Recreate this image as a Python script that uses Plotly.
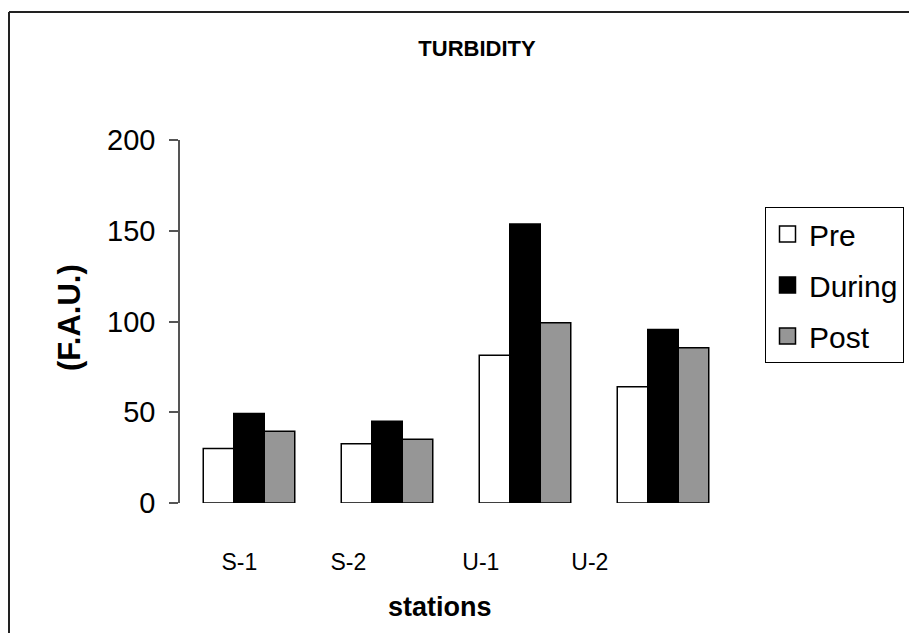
import plotly.graph_objects as go

stations = ["S-1", "S-2", "U-1", "U-2"]
pre = [30.0, 32.7, 81.4, 64.0]
during = [49.3, 45.0, 153.7, 95.6]
post = [39.5, 35.1, 99.3, 85.5]
# label positions on the category axis (as placed in the original, slightly offset)
label_pos = [-0.07, 0.72, 1.68, 2.47]
y_ticks = [0, 50, 100, 150, 200]

FONT = "Liberation Sans, Arial, sans-serif"
series = [("Pre", pre, "#ffffff"), ("During", during, "#000000"), ("Post", post, "#969696")]

fig = go.Figure()
xs = list(range(len(stations)))
for name, vals, col in series:
    fig.add_trace(go.Bar(
        x=xs, y=vals, name=name, showlegend=False,
        marker=dict(color=col, line=dict(color="#000000", width=1.5)),
    ))
for i, (name, vals, col) in enumerate(series):
    fig.add_trace(go.Scatter(
        x=[None], y=[None], mode="markers", name=name, legendgroup=name,
        marker=dict(symbol="square", size=16, color=col, line=dict(color="#000000", width=1.5)),
        hoverinfo="skip",
    ))

L, R, T, B = 180, 177, 140, 130
W, H = 909, 633
pw, ph = W - L - R, H - T - B

def px2paper_x(px):
    return (px - L) / pw

def py2paper_y(py):
    return (H - B - py) / ph

fig.update_layout(
    width=W, height=H,
    margin=dict(l=L, r=R, t=T, b=B, autoexpand=False),
    paper_bgcolor="white", plot_bgcolor="white",
    barmode="group", bargap=0.337, bargroupgap=0,
    font=dict(family=FONT, color="black"),
    title=dict(text="<b>TURBIDITY</b>", x=477 / W, xref="container", xanchor="center",
               y=1 - 48 / H, yref="container", yanchor="middle",
               font=dict(size=22, family=FONT, color="black")),
    showlegend=True,
    legend=dict(
        x=px2paper_x(765), y=py2paper_y(207), xanchor="left", yanchor="top",
        bordercolor="#000000", borderwidth=1, bgcolor="white",
        font=dict(size=30, family=FONT), traceorder="grouped", tracegroupgap=9,
        itemwidth=33,
    ),
    xaxis=dict(
        range=[-0.5, 3.5], tickmode="array", tickvals=label_pos, ticktext=stations,
        showline=False, showgrid=False, zeroline=False, ticks="",
        tickfont=dict(size=23, family=FONT), ticklabelstandoff=43,
    ),
    yaxis=dict(
        range=[0, 200], tickmode="array", tickvals=y_ticks,
        showline=True, linecolor="#555555", linewidth=1.5, showgrid=False, zeroline=False,
        ticks="outside", ticklen=9, tickcolor="#555555", tickwidth=1.5,
        tickfont=dict(size=29, family=FONT), ticklabelstandoff=8,
    ),
    annotations=[
        dict(text="<b>(F.A.U.)</b>", xref="paper", yref="paper", x=px2paper_x(69), y=py2paper_y(318),
             xanchor="center", yanchor="middle", textangle=-90, showarrow=False,
             font=dict(size=31, family=FONT, color="black")),
        dict(text="<b>stations</b>", xref="paper", yref="paper", x=px2paper_x(440),
             y=py2paper_y(607), xanchor="center", yanchor="middle", showarrow=False,
             font=dict(size=27, family=FONT, color="black")),
    ],
    shapes=[
        dict(type="line", xref="paper", yref="paper", x0=px2paper_x(9), x1=px2paper_x(912),
             y0=py2paper_y(12), y1=py2paper_y(12), line=dict(color="#222222", width=2)),
        dict(type="line", xref="paper", yref="paper", x0=px2paper_x(9), x1=px2paper_x(9),
             y0=py2paper_y(12), y1=py2paper_y(640), line=dict(color="#222222", width=2)),
    ],
)

fig.write_html("out.html")
